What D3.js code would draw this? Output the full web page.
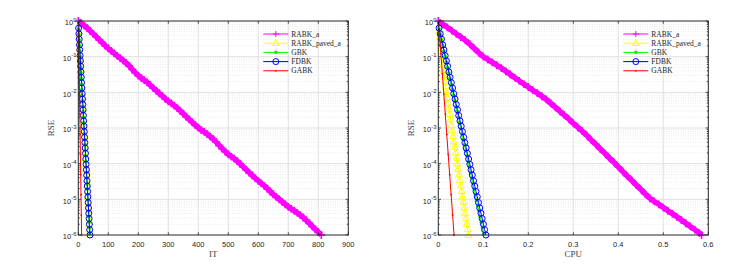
<!DOCTYPE html>
<html>
<head>
<meta charset="utf-8">
<script src="https://cdn.jsdelivr.net/npm/d3@7"></script>
<style>
  body{margin:0;background:#fff;}
  svg{display:block;}
</style>
</head>
<body>
<svg id="fig" width="744" height="267"></svg>
<script>
/* two panels: RSE vs IT (left) and RSE vs CPU (right), log10 RSE values */

/* ---------- DATA ---------- */
const NAMES=["RABK_a","RABK_paved_a","GBK","FDBK","GABK"];

// RABK_a, left panel: log10(RSE) every 10 iterations (0..810)
const rabkItStep=10;
const rabkIt=[0,-0.06,-0.13,-0.20,-0.28,-0.36,-0.44,-0.53,-0.61,-0.69,
  -0.77,-0.84,-0.91,-0.98,-1.04,-1.11,-1.18,-1.26,-1.36,-1.45,
  -1.53,-1.60,-1.66,-1.72,-1.80,-1.88,-1.95,-2.03,-2.10,-2.18,
  -2.25,-2.31,-2.37,-2.44,-2.52,-2.60,-2.68,-2.76,-2.84,-2.92,
  -2.99,-3.06,-3.11,-3.17,-3.24,-3.31,-3.40,-3.49,-3.58,-3.66,
  -3.74,-3.80,-3.86,-3.93,-4.01,-4.09,-4.17,-4.25,-4.33,-4.41,
  -4.48,-4.55,-4.62,-4.70,-4.78,-4.86,-4.93,-5.00,-5.07,-5.14,
  -5.21,-5.27,-5.32,-5.38,-5.44,-5.51,-5.59,-5.67,-5.76,-5.84,
  -5.92,-6.00];

// RABK_a, right panel
const rabkCpuT=[0,0.01,0.02,0.03,0.04,0.05,0.06,0.07,0.08,0.09,
  0.10,0.11,0.12,0.13,0.14,0.15,0.16,0.17,0.18,0.19,
  0.20,0.21,0.22,0.23,0.24,0.25,0.26,0.27,0.28,0.29,
  0.30,0.31,0.32,0.33,0.34,0.35,0.36,0.37,0.38,0.39,
  0.40,0.41,0.42,0.43,0.44,0.45,0.46,0.47,0.48,0.49,
  0.50,0.51,0.52,0.53,0.54,0.55,0.56,0.57,0.58,0.585];
const rabkCpu=[0,-0.09,-0.18,-0.27,-0.36,-0.45,-0.54,-0.65,-0.77,-0.89,
  -1.00,-1.08,-1.16,-1.24,-1.32,-1.41,-1.50,-1.59,-1.68,-1.77,
  -1.85,-1.94,-2.02,-2.11,-2.20,-2.31,-2.42,-2.53,-2.64,-2.75,
  -2.87,-2.98,-3.09,-3.21,-3.34,-3.46,-3.59,-3.71,-3.84,-3.96,
  -4.09,-4.22,-4.35,-4.47,-4.60,-4.72,-4.85,-4.97,-5.06,-5.14,
  -5.23,-5.32,-5.40,-5.49,-5.58,-5.67,-5.76,-5.85,-5.94,-6.00];

// RABK_paved_a: log10(RSE) per iteration, and CPU time of each iteration
const pavedRse=[-0.30,-0.45,-0.61,-0.76,-0.92,-1.07,-1.22,-1.38,-1.53,-1.69,
  -1.84,-1.99,-2.15,-2.30,-2.46,-2.61,-2.76,-2.92,-3.07,-3.23,
  -3.38,-3.53,-3.69,-3.84,-4.00,-4.15,-4.30,-4.46,-4.61,-4.77,
  -4.92,-5.07,-5.23,-5.38,-5.54,-5.69,-5.84,-6.00];
const pavedCpu=[0.0015,0.0030,0.0045,0.0060,0.0075,0.0090,0.0105,0.0120,0.0135,0.0150,
  0.0165,0.0180,0.0195,0.0214,0.0233,0.0252,0.0271,0.0290,0.0309,0.0328,
  0.0347,0.0366,0.0385,0.0404,0.0423,0.0442,0.0461,0.0480,0.0499,0.0518,
  0.0537,0.0556,0.0575,0.0594,0.0613,0.0632,0.0651,0.0670];

// GBK
const gbkRse=[-0.22,-0.37,-0.53,-0.68,-0.84,-0.99,-1.15,-1.30,-1.46,-1.61,
  -1.77,-1.92,-2.08,-2.23,-2.39,-2.54,-2.70,-2.85,-3.01,-3.16,
  -3.32,-3.47,-3.63,-3.78,-3.94,-4.09,-4.25,-4.40,-4.56,-4.71,
  -4.87,-5.02,-5.18,-5.33,-5.49,-5.64,-5.80,-5.97];
const gbkCpu=[0.0018,0.0045,0.0072,0.0098,0.0125,0.0152,0.0179,0.0206,0.0232,0.0259,
  0.0286,0.0313,0.0340,0.0366,0.0393,0.0420,0.0447,0.0474,0.0500,0.0527,
  0.0554,0.0581,0.0608,0.0634,0.0661,0.0688,0.0715,0.0742,0.0768,0.0795,
  0.0822,0.0849,0.0876,0.0902,0.0929,0.0956,0.0983,0.1010];

// FDBK
const fdbkRse=[-0.20,-0.36,-0.51,-0.67,-0.81,-0.97,-1.12,-1.27,-1.43,-1.58,
  -1.73,-1.88,-2.04,-2.19,-2.34,-2.49,-2.65,-2.80,-2.95,-3.10,
  -3.26,-3.41,-3.56,-3.71,-3.87,-4.02,-4.17,-4.32,-4.48,-4.63,
  -4.78,-4.93,-5.09,-5.24,-5.39,-5.54,-5.70,-5.85,-6.00];
const fdbkCpu=[0.0016,0.0043,0.0071,0.0098,0.0125,0.0153,0.0180,0.0207,0.0235,0.0262,
  0.0290,0.0317,0.0345,0.0372,0.0399,0.0427,0.0454,0.0482,0.0509,0.0537,
  0.0564,0.0591,0.0619,0.0646,0.0674,0.0701,0.0728,0.0756,0.0783,0.0811,
  0.0838,0.0866,0.0893,0.0920,0.0948,0.0975,0.1003,0.1030,0.1058];

// GABK
const gabkRse=[-0.35,-0.92,-1.48,-2.05,-2.61,-3.18,-3.74,-4.31,-4.87,-5.44,-6.00];
const gabkCpu=[0.0025,0.0058,0.0090,0.0123,0.0155,0.0188,0.0220,0.0253,0.0285,0.0318,0.0350];

const xTicksIt=[0,100,200,300,400,500,600,700,800,900];
const xTicksCpu=[0,0.1,0.2,0.3,0.4,0.5,0.6];
const yExps=[0,-1,-2,-3,-4,-5,-6];

/* ---------- STYLE ---------- */
const COL={RABK_a:"#ff00ff",RABK_paved_a:"#ffff00",GBK:"#00ff00",FDBK:"#0000ff",GABK:"#ff0000"};
const TICK_FONT="'Liberation Sans',Arial,Helvetica,sans-serif";
const TEX_FONT="'Liberation Serif','DejaVu Serif',serif";
const PW=270, PH=214, TOP=21;

const svg=d3.select("#fig");

/* series per panel: x values + log10 rse */
const idx=(a,off)=>a.map((_,i)=>i*off);
const itSeries={
  RABK_a:{x:idx(rabkIt,rabkItStep),y:rabkIt},
  RABK_paved_a:{x:pavedRse.map((_,i)=>i+1),y:pavedRse},
  GBK:{x:gbkRse.map((_,i)=>i+1),y:gbkRse},
  FDBK:{x:fdbkRse.map((_,i)=>i+1),y:fdbkRse},
  GABK:{x:gabkRse.map((_,i)=>i+1),y:gabkRse}
};
const cpuSeries={
  RABK_a:{x:rabkCpuT,y:rabkCpu},
  RABK_paved_a:{x:pavedCpu,y:pavedRse},
  GBK:{x:gbkCpu,y:gbkRse},
  FDBK:{x:fdbkCpu,y:fdbkRse},
  GABK:{x:gabkCpu,y:gabkRse}
};

/* ---------- MARKERS ---------- */
function marker(g,name,cx,cy,legend){
  const c=COL[name];
  if(name==="RABK_a"){
    const a=legend?3:3.9;
    g.append("path").attr("d",`M${cx-a},${cy}H${cx+a}M${cx},${cy-a}V${cy+a}`)
      .attr("stroke",c).attr("stroke-width",legend?1:1.6).attr("fill","none");
  }else if(name==="RABK_paved_a"){
    g.append("path").attr("d",`M${cx},${cy-3.6}L${cx+3.4},${cy+2.4}L${cx-3.4},${cy+2.4}Z`)
      .attr("stroke",c).attr("stroke-width",1).attr("fill","none");
  }else if(name==="GBK"){
    g.append("circle").attr("cx",cx).attr("cy",cy).attr("r",1.8).attr("fill",c);
  }else if(name==="FDBK"){
    g.append("circle").attr("cx",cx).attr("cy",cy).attr("r",3)
      .attr("stroke",c).attr("stroke-width",1).attr("fill","none");
  }else{
    g.append("circle").attr("cx",cx).attr("cy",cy).attr("r",0.9).attr("fill",c);
  }
}

/* ---------- PANEL ---------- */
function panel(id,left,xDomain,xTicks,xFmt,xLabel,series){
  const x=d3.scaleLinear().domain(xDomain).range([left,left+PW]);
  const y=d3.scaleLog().domain([1e-6,1]).range([TOP+PH,TOP]);
  const g=svg.append("g");

  g.append("defs").append("clipPath").attr("id","clip"+id)
    .append("rect").attr("x",left-4).attr("y",TOP-4).attr("width",PW+8).attr("height",PH+8);

  /* minor grid (y) */
  const minor=[];
  yExps.slice(1).forEach(e=>{for(let k=2;k<=9;k++) minor.push(k*Math.pow(10,e));});
  g.selectAll(".mg").data(minor).enter().append("line")
    .attr("x1",left).attr("x2",left+PW)
    .attr("y1",d=>y(d)).attr("y2",d=>y(d))
    .attr("stroke","#d4d4d4").attr("stroke-width",0.6).attr("stroke-dasharray","0.8,1.6");

  /* major grid */
  g.selectAll(".gx").data(xTicks.slice(1,-1)).enter().append("line")
    .attr("x1",d=>x(d)).attr("x2",d=>x(d)).attr("y1",TOP).attr("y2",TOP+PH)
    .attr("stroke","#e1e1e1").attr("stroke-width",1);
  g.selectAll(".gy").data(yExps.slice(1,-1)).enter().append("line")
    .attr("x1",left).attr("x2",left+PW)
    .attr("y1",d=>y(Math.pow(10,d))).attr("y2",d=>y(Math.pow(10,d)))
    .attr("stroke","#e1e1e1").attr("stroke-width",1);

  /* data */
  const dg=g.append("g").attr("clip-path",`url(#clip${id})`);
  NAMES.forEach(n=>{
    const s=series[n];
    const pts=s.x.map((v,i)=>[x(v),y(Math.pow(10,s.y[i]))]);
    dg.append("path").attr("d",d3.line()(pts))
      .attr("fill","none").attr("stroke",COL[n])
      .attr("stroke-width",n==="RABK_a"?5.4:1);
    pts.forEach(p=>marker(dg,n,p[0],p[1]));
  });

  /* axes box and ticks */
  g.append("rect").attr("x",left).attr("y",TOP).attr("width",PW).attr("height",PH)
    .attr("fill","none").attr("stroke","#262626").attr("stroke-width",1);
  const tk=g.append("g").attr("stroke","#262626").attr("stroke-width",0.8);
  xTicks.forEach(t=>{
    tk.append("line").attr("x1",x(t)).attr("x2",x(t)).attr("y1",TOP+PH).attr("y2",TOP+PH-2.7);
    tk.append("line").attr("x1",x(t)).attr("x2",x(t)).attr("y1",TOP).attr("y2",TOP+2.7);
  });
  yExps.forEach(e=>{
    const yy=y(Math.pow(10,e));
    tk.append("line").attr("x1",left).attr("x2",left+2.7).attr("y1",yy).attr("y2",yy);
    tk.append("line").attr("x1",left+PW).attr("x2",left+PW-2.7).attr("y1",yy).attr("y2",yy);
  });
  minor.forEach(m=>{
    const yy=y(m);
    tk.append("line").attr("x1",left).attr("x2",left+1.5).attr("y1",yy).attr("y2",yy);
    tk.append("line").attr("x1",left+PW).attr("x2",left+PW-1.5).attr("y1",yy).attr("y2",yy);
  });

  /* tick labels */
  g.selectAll(".xl").data(xTicks).enter().append("text")
    .attr("x",d=>x(d)).attr("y",TOP+PH+12)
    .attr("text-anchor","middle").attr("font-family",TICK_FONT).attr("font-size",7.5)
    .attr("fill","#262626").text(xFmt);
  yExps.forEach(e=>{
    const t=g.append("text").attr("x",left-1.8).attr("y",y(Math.pow(10,e))+4.3)
      .attr("text-anchor","end").attr("font-family",TICK_FONT).attr("font-size",7.5)
      .attr("fill","#262626");
    t.append("tspan").text("10");
    t.append("tspan").attr("dy",-3.8).attr("font-size",6).text(String(e));
  });

  /* axis labels */
  g.append("text").attr("x",left+PW/2).attr("y",257)
    .attr("text-anchor","middle").attr("font-family",TEX_FONT).attr("font-size",9)
    .attr("fill","#404040").text(xLabel);
  g.append("text").attr("transform",`translate(${left-24},${TOP+PH/2}) rotate(-90)`)
    .attr("text-anchor","middle").attr("font-family",TEX_FONT).attr("font-size",9)
    .attr("fill","#404040").text("RSE");

  /* legend (transparent box) */
  const lx=left+PW-85, ly=34, lh=9.2;
  NAMES.forEach((n,i)=>{
    const yy=ly+i*lh;
    const lg=g.append("g");
    lg.append("line").attr("x1",lx).attr("x2",lx+25).attr("y1",yy).attr("y2",yy)
      .attr("stroke",COL[n]).attr("stroke-width",1);
    marker(lg,n,lx+12.5,yy,true);
    lg.append("text").attr("x",lx+28).attr("y",yy+2.6)
      .attr("font-family",TEX_FONT).attr("font-size",7.5).attr("fill","#262626").text(n);
  });
}

panel("L",78.3,[0,900],xTicksIt,d=>String(d),"IT",itSeries);
panel("R",438.3,[0,0.6],xTicksCpu,d=>d===0?"0":String(d),"CPU",cpuSeries);
</script>
</body>
</html>
